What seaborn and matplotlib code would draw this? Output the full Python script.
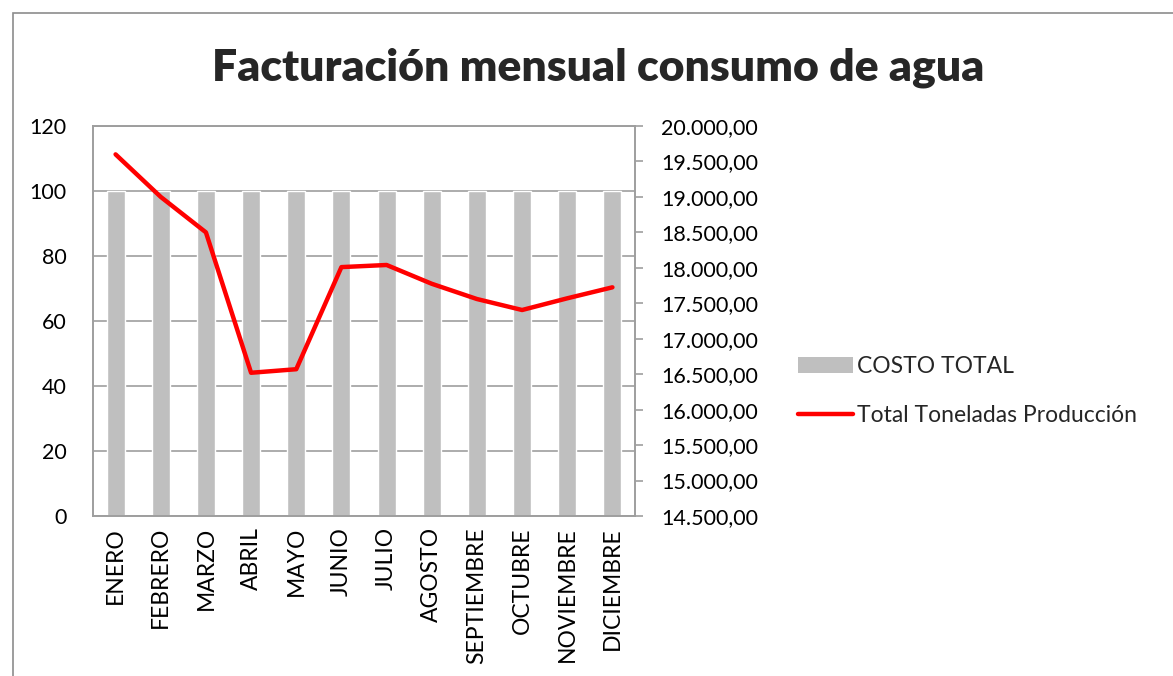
import matplotlib
matplotlib.use("Agg")
import matplotlib.pyplot as plt
import matplotlib.ticker as mticker
from matplotlib.patches import Patch, Rectangle
from matplotlib.lines import Line2D
import seaborn as sns
import numpy as np
import pandas as pd

months = ["ENERO", "FEBRERO", "MARZO", "ABRIL", "MAYO", "JUNIO", "JULIO",
          "AGOSTO", "SEPTIEMBRE", "OCTUBRE", "NOVIEMBRE", "DICIEMBRE"]
costo_total = [100, 100, 100, 100, 100, 100, 100, 100, 100, 100, 100, 100]
toneladas = [19600, 19000, 18500, 16520, 16570, 18010, 18040,
             17775, 17560, 17405, 17570, 17725]
left_ticks = [0, 20, 40, 60, 80, 100, 120]
right_ticks = [14500, 15000, 15500, 16000, 16500, 17000, 17500,
               18000, 18500, 19000, 19500, 20000]

sns.set_theme(style="white")
plt.rcParams['font.family'] = ['Lato', 'DejaVu Sans']

W, H = 1173, 676
fig = plt.figure(figsize=(W / 100, H / 100), dpi=100)
ax = fig.add_axes([93 / W, 1 - 516 / H, 542 / W, 390 / H])

df = pd.DataFrame({"mes": months, "costo": costo_total, "ton": toneladas,
                   "pos": np.arange(len(months))})

sns.barplot(data=df, x="mes", y="costo", color="#BFBFBF", saturation=1,
            width=0.4, ax=ax, zorder=2)
ax.set_ylim(0, 120)
ax.set_xlim(-0.5, len(months) - 0.5)
ax.set_yticks(left_ticks)
ax.yaxis.grid(True, color="#9E9E9E", linewidth=1.2, zorder=0)
ax.set_axisbelow(True)
ax.set_xlabel("")
ax.set_ylabel("")
ax.tick_params(axis="x", labelrotation=90, labelsize=16.5, length=0, pad=8,
               colors="black")
ax.tick_params(axis="y", labelsize=15.5, length=0, pad=19, colors="black")
for s in ax.spines.values():
    s.set_color("#9E9E9E")
    s.set_linewidth(1.2)

ax2 = ax.twinx()
sns.lineplot(data=df, x="pos", y="ton", color="#FF0000", linewidth=3.2,
             ax=ax2, zorder=3)
ax2.set_ylim(14500, 20000)
ax2.set_yticks(right_ticks)
ax2.yaxis.set_major_formatter(mticker.FuncFormatter(
    lambda v, p: f"{v:,.2f}".replace(",", "X").replace(".", ",").replace("X", ".")))
ax2.tick_params(axis="y", labelsize=15.5, length=6, width=1.2, color="#9E9E9E",
                direction="out", pad=13, colors="black")
ax2.tick_params(axis="y", color="#9E9E9E")
ax2.set_ylabel("")
ax2.set_xlabel("")
ax2.grid(False)
for s in ax2.spines.values():
    s.set_color("#9E9E9E")
    s.set_linewidth(1.2)

fig.text(598 / W, 1 - 68 / H, "Facturación mensual consumo de agua",
         ha="center", va="center", fontsize=32, fontweight="heavy")

handles = [Patch(facecolor="#BFBFBF", edgecolor="none"),
           Line2D([0], [0], color="#FF0000", linewidth=3.2)]
fig.legend(handles, ["COSTO TOTAL", "Total Toneladas Producción"],
           loc="center left", bbox_to_anchor=(777 / W, 1 - 391 / H),
           frameon=False, fontsize=16.5, handlelength=2.4, handletextpad=0.2,
           labelspacing=1.2)

fig.patches.append(Rectangle((13 / W, -0.1), 1.2, 1 - 13 / H + 0.1,
                             transform=fig.transFigure, fill=False,
                             edgecolor="#8C8C8C", linewidth=1.2))

fig.savefig("out.png", dpi=100, facecolor="white")
